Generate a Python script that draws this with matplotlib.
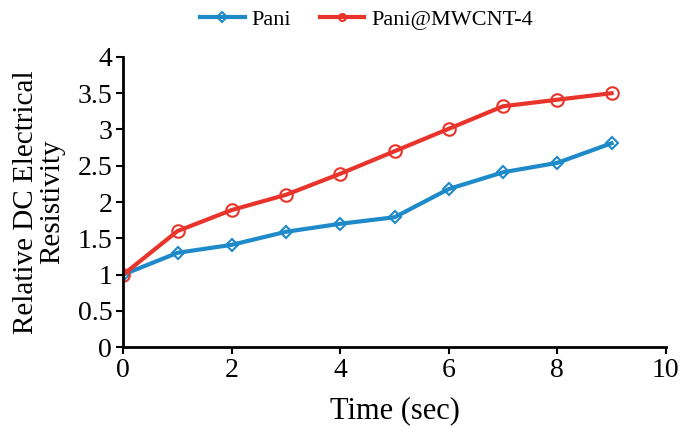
import matplotlib
matplotlib.use('Agg')
import matplotlib.pyplot as plt

plt.rcParams['font.family'] = ['Liberation Serif', 'DejaVu Serif']

# data
time = [0, 1, 2, 3, 4, 5, 6, 7, 8, 9]
pani = [1.0, 1.30, 1.41, 1.59, 1.70, 1.79, 2.18, 2.41, 2.54, 2.81]
pani_mwcnt = [1.0, 1.60, 1.89, 2.10, 2.39, 2.70, 3.01, 3.32, 3.41, 3.50]

fig = plt.figure(figsize=(6.85, 4.28), dpi=100)
ax = fig.add_axes([0.18, 0.189, 0.792, 0.678])

ax.plot(time, pani, color='#1f8ac9', lw=3, marker='D', ms=6,
        mfc='none', mec='#1f8ac9', mew=1.5, label='Pani')
ax.plot(time, pani_mwcnt, color='#e8342a', lw=3, marker='o', ms=9,
        mfc='none', mec='#e8342a', mew=1.5, label='Pani@MWCNT-4')

ax.set_xlim(0, 10)
ax.set_ylim(0, 4)
ax.set_xticks([0, 2, 4, 6, 8, 10])
ax.set_yticks([0, 0.5, 1, 1.5, 2, 2.5, 3, 3.5, 4])
ax.set_yticklabels(['0', '0.5', '1', '1.5', '2', '2.5', '3', '3.5', '4'])

for s in ['top', 'right']:
    ax.spines[s].set_visible(False)
for s in ['left', 'bottom']:
    ax.spines[s].set_linewidth(2)
ax.tick_params(direction='out', length=5, width=1.5, labelsize=20, pad=3)

ax.set_xlabel('Time (sec)', fontsize=22, labelpad=9)
ax.set_ylabel('Relative DC Electrical\nResistivity', fontsize=21, linespacing=1.0, labelpad=9)

leg = fig.legend(loc='upper center', bbox_to_anchor=(0.535, 1.025), ncol=2, frameon=False,
                 fontsize=16, handlelength=2.0, columnspacing=1.3, handletextpad=0.3)
for h in leg.legend_handles:
    h.set_markersize(5)

plt.savefig('out.png', dpi=100)
